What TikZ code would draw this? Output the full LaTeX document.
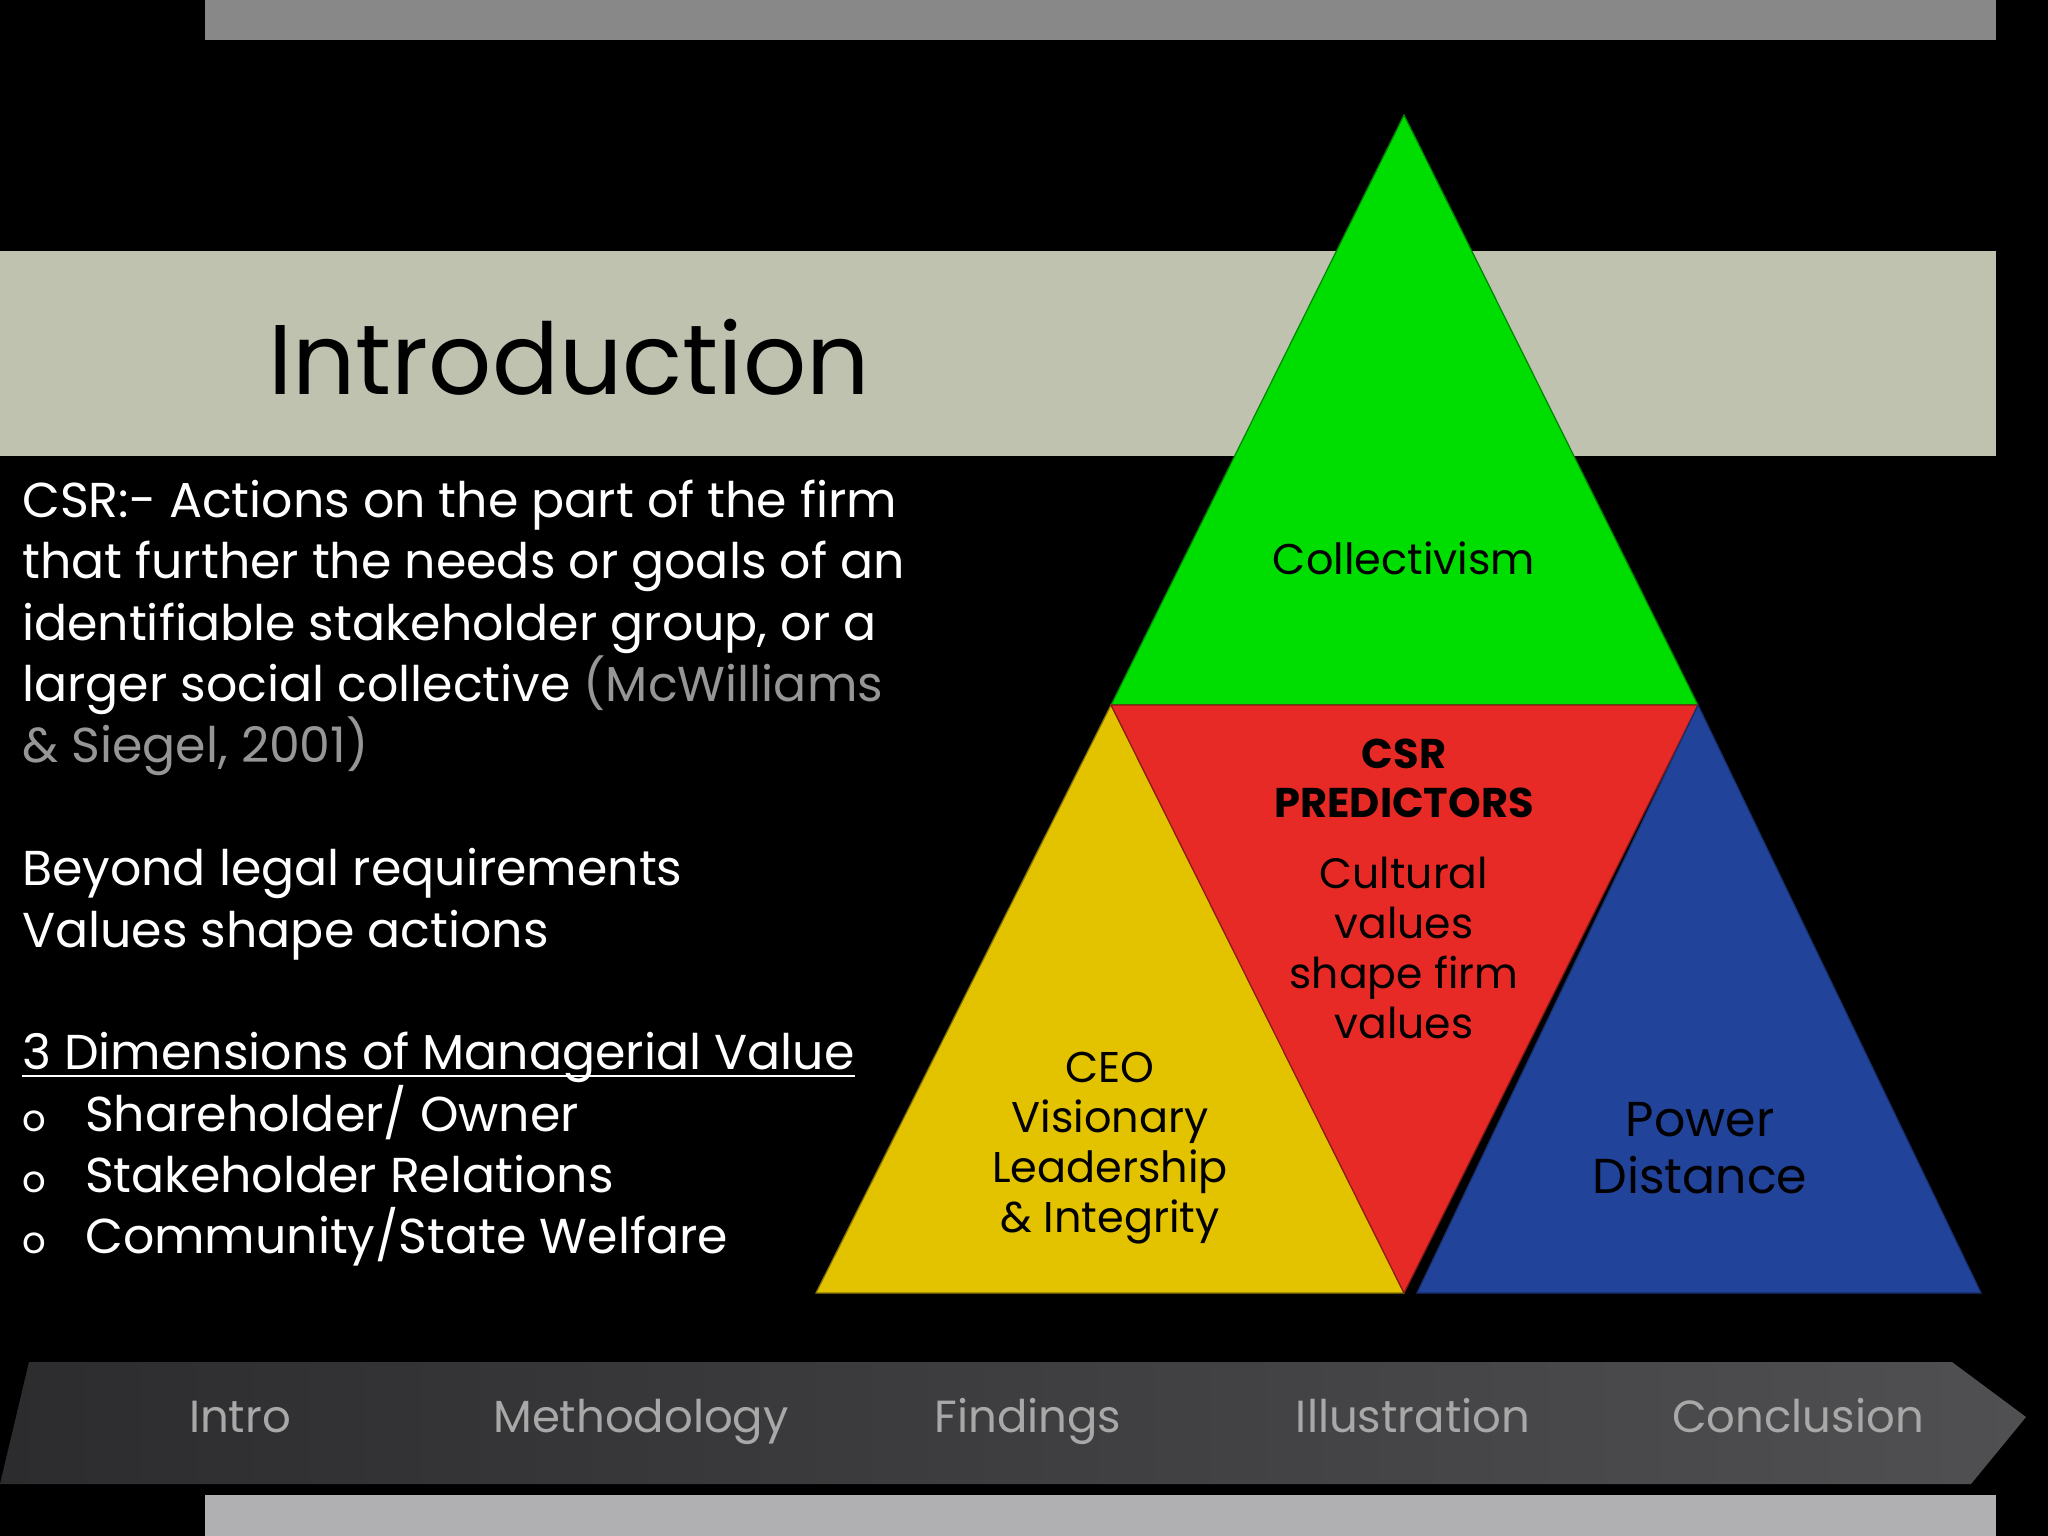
\documentclass[tikz,border=0pt]{standalone}
\usepackage{fontspec}
\setmainfont{Poppins}
\definecolor{topbar}{RGB}{136,136,136}
\definecolor{band}{RGB}{190,194,175}
\definecolor{collgreen}{RGB}{0,221,0}
\definecolor{predred}{RGB}{232,42,38}
\definecolor{ceoyellow}{RGB}{227,195,0}
\definecolor{powerblue}{RGB}{34,67,154}
\definecolor{citegray}{RGB}{150,150,150}
\definecolor{navleft}{RGB}{44,44,46}
\definecolor{navright}{RGB}{80,80,82}
\definecolor{navgray}{RGB}{168,168,168}
\definecolor{botbar}{RGB}{176,175,178}
\tikzset{
  bodyline/.style={anchor=base west, inner sep=0, text=white, font=\fontsize{49}{61}\selectfont},
  pyrlabel/.style={align=center, inner sep=0, font=\fontsize{43}{50}\selectfont},
  navlabel/.style={anchor=base, text=navgray, inner sep=0, font=\fontsize{45}{50}\selectfont},
}
\begin{document}
\begin{tikzpicture}[x=1pt,y=-1pt]
	\fill[black] (0,0) rectangle (2048,1536);
	\useasboundingbox (0,0) rectangle (2048,1536);
	% header
	\fill[topbar] (205,0) rectangle (1996,40);
	\fill[band] (0,251) rectangle (1996,456);
	\node[anchor=base west, inner sep=0, font=\fontsize{99}{110}\selectfont] (title) at (268,394) {Introduction};
	% pyramid corners
	\coordinate (apex) at (1404,115);
	\coordinate (ml) at (1111,705);
	\coordinate (mr) at (1698,705);
	\coordinate (bl) at (816,1293);
	\coordinate (bm) at (1404,1293);
	\coordinate (bb) at (1417,1293);
	\coordinate (br) at (1981,1293);
	\draw[fill=collgreen, draw=collgreen!60!black, line width=1.2pt] (apex) -- (mr) -- (ml) -- cycle;
	\draw[fill=ceoyellow, draw=ceoyellow!60!black, line width=1.2pt] (ml) -- (bm) -- (bl) -- cycle;
	\draw[fill=predred, draw=predred!60!black, line width=1.2pt] (ml) -- (mr) -- (bm) -- cycle;
	\draw[fill=powerblue, draw=powerblue!70!black, line width=1.2pt] (mr) -- (br) -- (bb) -- cycle;
	\node[pyrlabel] (coll) at (1404,558) {Collectivism};
	\node[pyrlabel, font=\bfseries\fontsize{41.5}{49}\selectfont] (pred) at (1404,778) {CSR\\PREDICTORS};
	\node[pyrlabel, font=\fontsize{42.5}{50}\selectfont] (cult) at (1404,948) {Cultural\\values\\shape firm\\values};
	\node[pyrlabel] (ceo) at (1110,1148) {CEO\\Visionary\\Leadership\\\& Integrity};
	\node[pyrlabel, font=\fontsize{49}{57}\selectfont] (power) at (1700,1148) {Power\\Distance};
	% left text
	\node[bodyline] (def1) at (22,517) {CSR:- Actions on the part of the firm};
	\node[bodyline] (def2) at (22,578) {that further the needs or goals of an};
	\node[bodyline] (def3) at (22,640) {identifiable stakeholder group, or a};
	\node[bodyline] (def4) at (22,701) {larger social collective \textcolor{citegray}{(McWilliams}};
	\node[bodyline, text=citegray] (def5) at (22,762) {\& Siegel, 2001)};
	\node[bodyline] (legal) at (22,885) {Beyond legal requirements};
	\node[bodyline] (vals) at (22,947) {Values shape actions};
	\node[bodyline] (dims) at (22,1069) {3 Dimensions of Managerial Value};
	\draw[white, line width=2.5pt] ([yshift=-7pt]dims.base west) -- ([yshift=-7pt]dims.base east);
	\node[bodyline, font=\fontsize{37}{50}\selectfont] (b1) at (22,1131) {o};
	\node[bodyline, font=\fontsize{37}{50}\selectfont] (b2) at (22,1192) {o};
	\node[bodyline, font=\fontsize{37}{50}\selectfont] (b3) at (22,1253) {o};
	\node[bodyline] (own) at (85,1131) {Shareholder/ Owner};
	\node[bodyline] (rel) at (85,1192) {Stakeholder Relations};
	\node[bodyline] (wel) at (85,1253) {Community/State Welfare};
	% navigation arrow
	\shade[left color=navleft, right color=navright] (29,1362) -- (1952,1362) -- (2026,1417) -- (1971,1484) -- (0,1484) -- cycle;
	\node[navlabel] (intro) at (240,1432) {Intro};
	\node[navlabel] (meth) at (641,1432) {Methodology};
	\node[navlabel] (find) at (1028,1432) {Findings};
	\node[navlabel] (illu) at (1413,1432) {Illustration};
	\node[navlabel] (concl) at (1798,1432) {Conclusion};
	\fill[botbar] (205,1495) rectangle (1996,1536);
\end{tikzpicture}
\end{document}
